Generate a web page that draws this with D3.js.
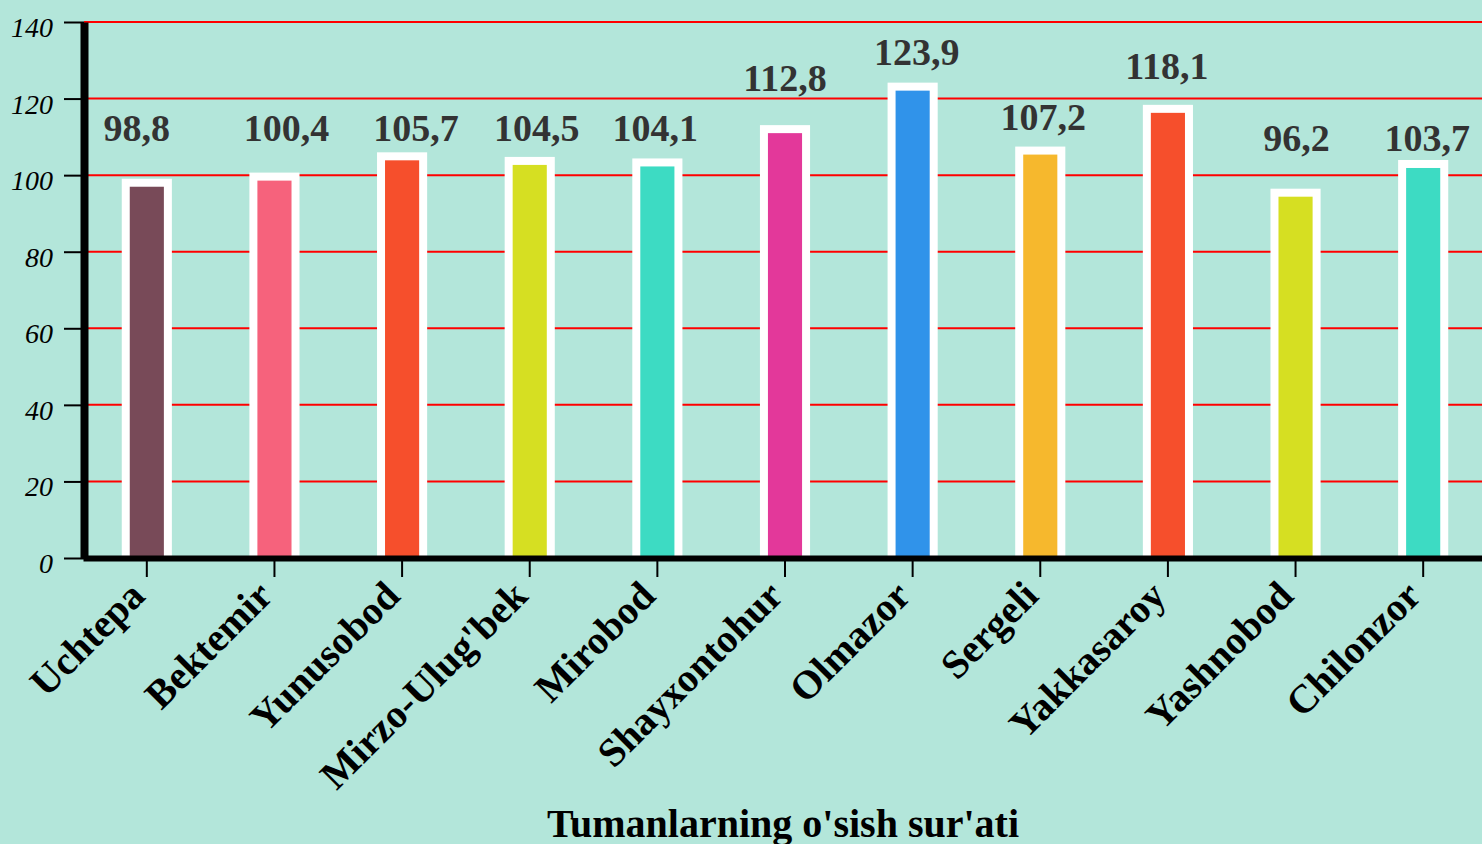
<!DOCTYPE html>
<html><head><meta charset="utf-8">
<script src="https://cdn.jsdelivr.net/npm/d3@7"></script>
<style>html,body{margin:0;padding:0;background:#b3e6da;overflow:hidden}</style>
</head><body><svg id="c" width="1482" height="844"></svg>
<script>
const districts = ["Uchtepa","Bektemir","Yunusobod","Mirzo-Ulug'bek","Mirobod","Shayxontohur","Olmazor","Sergeli","Yakkasaroy","Yashnobod","Chilonzor"];
const growth = [98.8,100.4,105.7,104.5,104.1,112.8,123.9,107.2,118.1,96.2,103.7];
const barColors = ["#784a58","#f6627c","#f64f2c","#d6df22","#3ddbc3","#e3389a","#3093ea","#f6b82d","#f64f2c","#d6df22","#3ddbc3"];
const yTicks = [0,20,40,60,80,100,120,140];
const xTitle = "Tumanlarning o'sish sur'ati";
// layout nudges of the value labels (px), as placed in the original
const labelDx = [-10,12,14,7,-2,0,4,3,-1,1,4];
const labelDy = [-39,-33,-12,-17,-18,-35,-19,-18,-27,-39,-10];

(function(){
const W = 1482, H = 844;
const serif = "'Liberation Serif','Times New Roman',serif";
const svg = d3.select("#c");
svg.append("rect").attr("width",W).attr("height",H).attr("fill","#b3e6da");

const mLeft = 84, mTop = 22, mBottom = 558;
const x = d3.scaleBand().domain(districts).range([83,1487]).paddingInner(0.67).paddingOuter(0.335);
const y = d3.scaleLinear().domain([0,140]).range([mBottom, mTop]);

svg.append("defs").append("clipPath").attr("id","plotclip")
  .append("rect").attr("x",0).attr("y",0).attr("width",W).attr("height",y(0));

// gridlines
svg.append("g").selectAll("line").data(yTicks.filter(t=>t>0)).join("line")
  .attr("x1",mLeft).attr("x2",W).attr("y1",d=>y(d)).attr("y2",d=>y(d))
  .attr("stroke","#ff0000").attr("stroke-width",2);

// bars
const data = districts.map((d,i)=>({name:d,v:growth[i],c:barColors[i],dx:labelDx[i],dy:labelDy[i]}));
svg.append("g").attr("clip-path","url(#plotclip)").selectAll("rect").data(data).join("rect")
  .attr("x",d=>x(d.name)).attr("width",x.bandwidth())
  .attr("y",d=>y(d.v)+3).attr("height",d=>y(0)-y(d.v)+10)
  .attr("fill",d=>d.c).attr("stroke","#fff").attr("stroke-width",8);

// value labels
svg.append("g").selectAll("text").data(data).join("text")
  .attr("x",d=>x(d.name)+x.bandwidth()/2+d.dx).attr("y",d=>y(d.v)+d.dy)
  .attr("text-anchor","middle").attr("font-family",serif).attr("font-weight","bold")
  .attr("font-size",38).attr("fill","#333")
  .text(d=>String(d.v).replace(".",","));

// x axis
const gx = svg.append("g").attr("transform",`translate(0,${mBottom})`)
  .call(d3.axisBottom(x).tickSize(19).tickSizeOuter(0));
gx.select(".domain").attr("stroke","#000").attr("stroke-width",6);
gx.selectAll(".tick line").attr("stroke","#000").attr("stroke-width",2);
gx.selectAll(".tick text").attr("font-family",serif).attr("font-weight","bold")
  .attr("font-size",40).attr("fill","#000").attr("text-anchor","end")
  .attr("x",0).attr("y",0).attr("dy",0).attr("transform","translate(0,40) rotate(-45)");

// y axis
const gy = svg.append("g").attr("transform",`translate(${mLeft},0)`)
  .call(d3.axisLeft(y).tickValues(yTicks).tickSize(20).tickPadding(11).tickSizeOuter(0));
gy.select(".domain").attr("stroke","#000").attr("stroke-width",8);
gy.selectAll(".tick line").attr("stroke","#000").attr("stroke-width",2);
gy.selectAll(".tick text").attr("font-family",serif).attr("font-style","italic")
  .attr("font-size",28).attr("fill","#000").attr("dy","0.52em");

// axis title
svg.append("text").attr("x",(mLeft+W)/2).attr("y",837).attr("text-anchor","middle")
  .attr("font-family",serif).attr("font-weight","bold").attr("font-size",40).attr("fill","#000")
  .text(xTitle);
})();
</script></body></html>
